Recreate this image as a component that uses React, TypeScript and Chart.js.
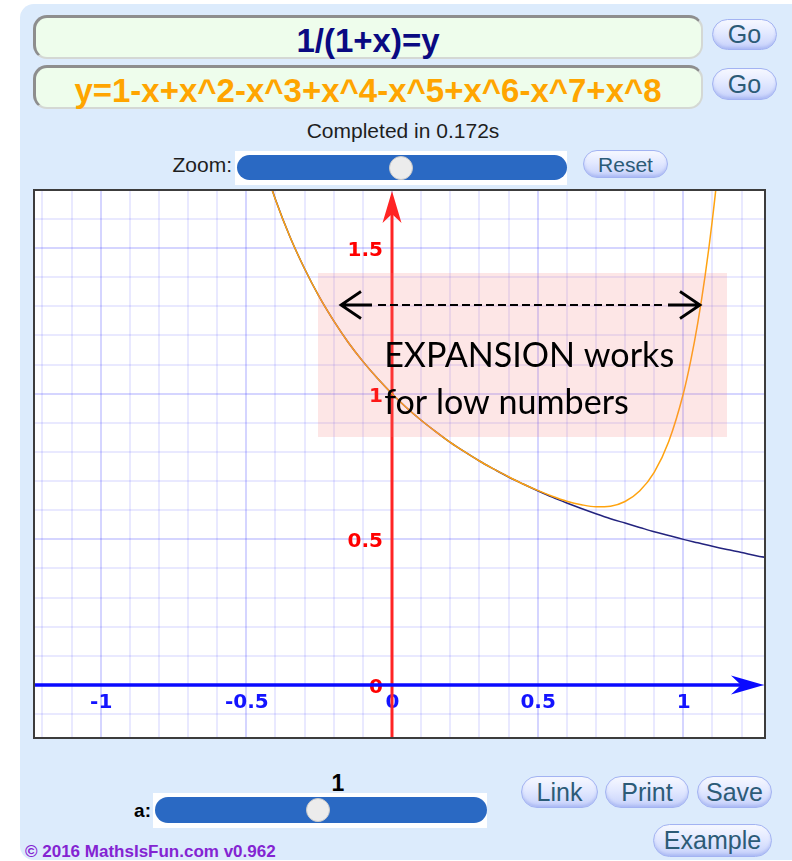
import React, { useEffect, useRef } from "react";
import { Chart, registerables } from "chart.js";

Chart.register(...registerables);

// y = 1/(1+x)
const exactX = [-0.45, -0.4, -0.35, -0.3, -0.25, -0.2, -0.15, -0.1, -0.05, 0, 0.05, 0.1, 0.15, 0.2, 0.25, 0.3, 0.35, 0.4, 0.45, 0.5, 0.55, 0.6, 0.65, 0.7, 0.75, 0.8, 0.85, 0.9, 0.95, 1.0, 1.05, 1.1, 1.15, 1.2, 1.25, 1.3];
const exactY = [1.818, 1.667, 1.538, 1.429, 1.333, 1.25, 1.176, 1.111, 1.053, 1.0, 0.952, 0.909, 0.87, 0.833, 0.8, 0.769, 0.741, 0.714, 0.69, 0.667, 0.645, 0.625, 0.606, 0.588, 0.571, 0.556, 0.541, 0.526, 0.513, 0.5, 0.488, 0.476, 0.465, 0.455, 0.444, 0.435];

// y = 1-x+x^2-...+x^8
const seriesX = [-0.45, -0.4, -0.35, -0.3, -0.25, -0.2, -0.15, -0.1, -0.05, 0, 0.05, 0.1, 0.15, 0.2, 0.25, 0.3, 0.35, 0.4, 0.45, 0.5, 0.55, 0.6, 0.65, 0.7, 0.75, 0.8, 0.85, 0.9, 0.95, 1.0, 1.025, 1.05, 1.075, 1.1, 1.125, 1.15];
const seriesY = [1.817, 1.666, 1.538, 1.429, 1.333, 1.25, 1.176, 1.111, 1.053, 1.0, 0.952, 0.909, 0.87, 0.833, 0.8, 0.769, 0.741, 0.715, 0.69, 0.668, 0.648, 0.631, 0.619, 0.612, 0.614, 0.63, 0.666, 0.73, 0.836, 1.0, 1.111, 1.245, 1.406, 1.599, 1.829, 2.101];

const xTickValues = [-1, -0.5, 0, 0.5, 1];
const xTickLabels = ["-1", "-0.5", "0", "0.5", "1"];
const yTickValues = [0, 0.5, 1, 1.5];
const yTickLabels = ["0", "0.5", "1", "1.5"];

const noteLines = ["EXPANSION works", "for low numbers"];

const X_MIN = -1.2255;
const X_MAX = 1.277;
const Y_MIN = -0.1785;
const Y_MAX = 1.6959;

const gridTicks = (min: number, max: number) => {
  const out: { value: number }[] = [];
  for (let i = Math.ceil(min * 10); i <= Math.floor(max * 10); i++) out.push({ value: i / 10 });
  return out;
};

const gridColor = (c: any) => {
  const v = c.tick ? c.tick.value : 0;
  return Math.abs(v * 2 - Math.round(v * 2)) < 1e-6 ? "rgba(20,20,255,0.18)" : "rgba(20,20,255,0.095)";
};

const axesPlugin = {
  id: "grapherAxes",
  beforeDatasetsDraw(chart: any) {
    const { ctx, chartArea, scales } = chart;
    const sx = scales.x;
    const sy = scales.y;
    const x0 = sx.getPixelForValue(0);
    const y0 = sy.getPixelForValue(0);
    ctx.save();
    ctx.font = "bold 20px 'DejaVu Sans'";
    ctx.textBaseline = "alphabetic";
    ctx.fillStyle = "#ff0000";
    ctx.textAlign = "right";
    yTickValues.forEach((v, i) => ctx.fillText(yTickLabels[i], x0 - 9, sy.getPixelForValue(v) + 8));
    ctx.fillStyle = "#1414ff";
    ctx.textAlign = "center";
    xTickValues.forEach((v, i) => ctx.fillText(xTickLabels[i], sx.getPixelForValue(v) + 0.5, y0 + 23));

    // vertical axis with arrow
    ctx.strokeStyle = "#ff2424";
    ctx.fillStyle = "#ff2424";
    ctx.lineWidth = 3;
    ctx.beginPath();
    ctx.moveTo(x0, chartArea.bottom);
    ctx.lineTo(x0, chartArea.top + 22);
    ctx.stroke();
    ctx.beginPath();
    ctx.moveTo(x0, chartArea.top);
    ctx.lineTo(x0 + 9.5, chartArea.top + 32);
    ctx.lineTo(x0, chartArea.top + 23);
    ctx.lineTo(x0 - 9.5, chartArea.top + 32);
    ctx.closePath();
    ctx.fill();

    // horizontal axis with arrow
    ctx.strokeStyle = "#0a0aff";
    ctx.fillStyle = "#0a0aff";
    ctx.lineWidth = 3.5;
    ctx.beginPath();
    ctx.moveTo(chartArea.left, y0);
    ctx.lineTo(chartArea.right - 20, y0);
    ctx.stroke();
    ctx.beginPath();
    ctx.moveTo(chartArea.right, y0);
    ctx.lineTo(chartArea.right - 33, y0 - 9.5);
    ctx.lineTo(chartArea.right - 23, y0);
    ctx.lineTo(chartArea.right - 33, y0 + 9.5);
    ctx.closePath();
    ctx.fill();
    ctx.restore();
  },
};

const notePlugin = {
  id: "expansionNote",
  afterDatasetsDraw(chart: any) {
    const { ctx, scales } = chart;
    const sx = scales.x;
    const sy = scales.y;
    const bx0 = sx.getPixelForValue(-0.254);
    const bx1 = sx.getPixelForValue(1.15);
    const by0 = sy.getPixelForValue(1.4144);
    const by1 = sy.getPixelForValue(0.8514);
    ctx.save();
    ctx.fillStyle = "rgba(245,120,120,0.19)";
    ctx.fillRect(bx0, by0, bx1 - bx0, by1 - by0);

    // double-headed dashed arrow
    const ay = sy.getPixelForValue(1.3045);
    const lx = sx.getPixelForValue(-0.1751);
    const rx = sx.getPixelForValue(1.0573);
    ctx.strokeStyle = "#000";
    ctx.lineWidth = 2.8;
    ctx.lineCap = "butt";
    ctx.beginPath();
    ctx.moveTo(lx + 20, ay - 13.5);
    ctx.lineTo(lx, ay);
    ctx.lineTo(lx + 20, ay + 13.5);
    ctx.moveTo(lx, ay);
    ctx.lineTo(lx + 31, ay);
    ctx.moveTo(rx - 20, ay - 13.5);
    ctx.lineTo(rx, ay);
    ctx.lineTo(rx - 20, ay + 13.5);
    ctx.moveTo(rx, ay);
    ctx.lineTo(rx - 32, ay);
    ctx.stroke();
    ctx.lineWidth = 2;
    ctx.setLineDash([8, 4]);
    ctx.beginPath();
    ctx.moveTo(lx + 37, ay);
    ctx.lineTo(rx - 36, ay);
    ctx.stroke();
    ctx.setLineDash([]);

    // note text
    ctx.fillStyle = "#000";
    ctx.textAlign = "left";
    ctx.textBaseline = "alphabetic";
    ctx.font = "400 36px Lato";
    const w = ctx.measureText(noteLines[0]).width;
    const size = (36 * 290) / w;
    ctx.font = `400 ${size.toFixed(1)}px Lato`;
    const tx = sx.getPixelForValue(-0.027);
    ctx.fillText(noteLines[0], tx, sy.getPixelForValue(1.0917));
    ctx.fillText(noteLines[1], tx, sy.getPixelForValue(0.9303));
    ctx.restore();
  },
};

const abs = (left: number, top: number, extra: React.CSSProperties = {}): React.CSSProperties => ({
  position: "absolute",
  left,
  top,
  ...extra,
});

function PillButton(props: { left: number; top: number; width: number; height: number; label: string; size: number }) {
  const { left, top, width, height, label, size } = props;
  return (
    <div
      style={abs(left, top, {
        width,
        height,
        boxSizing: "border-box",
        borderRadius: height / 2,
        border: "1.5px solid #a3b3f2",
        background: "linear-gradient(#f6f8ff 0%, #e3e9ff 45%, #c6d1fb 100%)",
        boxShadow: "inset 0 -2px 3px rgba(120,140,230,0.35)",
        color: "#2c5b77",
        fontFamily: "'Liberation Sans', Arial, sans-serif",
        fontSize: size,
        display: "flex",
        alignItems: "center",
        justifyContent: "center",
        lineHeight: 1,
      })}
    >
      {label}
    </div>
  );
}

function Slider(props: { left: number; top: number; width: number; height: number; thumb: number }) {
  const { left, top, width, height, thumb } = props;
  return (
    <>
      <div style={abs(left, top, { width, height: height + 9, background: "#fff" })} />
      <div
        style={abs(left + 2, top + 4, {
          width: width - 2,
          height,
          borderRadius: height / 2,
          background: "#2a69c3",
        })}
      />
      <div
        style={abs(thumb - 12, top + 4 + height / 2 - 12, {
          width: 24,
          height: 24,
          boxSizing: "border-box",
          borderRadius: "50%",
          background: "#ececec",
          border: "1.5px solid #c9c9c9",
        })}
      />
    </>
  );
}

function InputBox(props: { top: number; text: string; color: string }) {
  const { top, text, color } = props;
  return (
    <>
      <div
        style={abs(33, top, {
          width: 670,
          height: 44,
          boxSizing: "border-box",
          borderRadius: 14,
          background: "#eefdec",
          borderStyle: "solid",
          borderWidth: "3px 2px 2px 3px",
          borderColor: "#8e8e8e #d4d8d4 #d4d8d4 #8e8e8e",
        })}
      />
      <div
        style={abs(33, top + 9, {
          width: 670,
          textAlign: "center",
          fontFamily: "'Liberation Sans', Arial, sans-serif",
          fontWeight: "bold",
          fontSize: 33,
          lineHeight: "33px",
          color,
          whiteSpace: "nowrap",
        })}
      >
        {text}
      </div>
    </>
  );
}

export default function App() {
  const canvasRef = useRef<HTMLCanvasElement>(null);

  useEffect(() => {
    const canvas = canvasRef.current;
    if (!canvas) return;
    const chart = new Chart(canvas, {
      type: "line",
      data: {
        datasets: [
          {
            label: "y=1-x+x^2-x^3+x^4-x^5+x^6-x^7+x^8",
            data: seriesX.map((x, i) => ({ x, y: seriesY[i] })),
            borderColor: "#ffa30f",
            borderWidth: 1.5,
            pointRadius: 0,
            fill: false,
            cubicInterpolationMode: "monotone",
          },
          {
            label: "1/(1+x)=y",
            data: exactX.map((x, i) => ({ x, y: exactY[i] })),
            borderColor: "#23237e",
            borderWidth: 1.5,
            pointRadius: 0,
            fill: false,
            cubicInterpolationMode: "monotone",
          },
        ],
      },
      options: {
        animation: false,
        responsive: false,
        devicePixelRatio: 1,
        events: [],
        layout: { padding: 0 },
        plugins: { legend: { display: false }, tooltip: { enabled: false } },
        scales: {
          x: {
            type: "linear",
            min: X_MIN,
            max: X_MAX,
            afterBuildTicks: (s: any) => {
              s.ticks = gridTicks(X_MIN, X_MAX);
            },
            ticks: { display: false },
            grid: { color: gridColor, lineWidth: 2, drawTicks: false },
            border: { display: false },
          },
          y: {
            type: "linear",
            min: Y_MIN,
            max: Y_MAX,
            afterBuildTicks: (s: any) => {
              s.ticks = gridTicks(Y_MIN, Y_MAX);
            },
            ticks: { display: false },
            grid: { color: gridColor, lineWidth: 2, drawTicks: false },
            border: { display: false },
          },
        },
      } as any,
      plugins: [axesPlugin, notePlugin],
    });
    return () => chart.destroy();
  }, []);

  const sans = "'Liberation Sans', Arial, sans-serif";

  return (
    <div style={{ position: "absolute", left: 0, top: 0, width: 792, height: 861, background: "#fff", overflow: "hidden" }}>
      <div style={abs(20, 4, { width: 790, height: 856, borderRadius: 14, background: "#dcebfc" })} />

      <InputBox top={15} text="1/(1+x)=y" color="#0a0a82" />
      <InputBox top={65} text="y=1-x+x^2-x^3+x^4-x^5+x^6-x^7+x^8" color="#ffa500" />
      <PillButton left={712} top={19} width={65} height={31} label="Go" size={25} />
      <PillButton left={712} top={68} width={65} height={32} label="Go" size={25} />

      <div style={abs(203, 120, { width: 400, textAlign: "center", fontFamily: sans, fontSize: 21, lineHeight: "21px", color: "#1e1e1e" })}>
        Completed in 0.172s
      </div>
      <div style={abs(132, 154, { width: 100, textAlign: "right", fontFamily: sans, fontSize: 21, lineHeight: "21px", color: "#1e1e1e" })}>
        Zoom:
      </div>
      <Slider left={235} top={151} width={332} height={25} thumb={401} />
      <PillButton left={583} top={150} width={85} height={28} label="Reset" size={21} />

      <div
        style={abs(33, 189, {
          width: 733,
          height: 550,
          boxSizing: "border-box",
          border: "2px solid #3c3c3c",
          background: "#fff",
        })}
      >
        <canvas ref={canvasRef} width={729} height={546} style={{ display: "block", width: 729, height: 546 }} />
      </div>

      <div style={abs(288, 772, { width: 100, textAlign: "center", fontFamily: sans, fontWeight: "bold", fontSize: 23, lineHeight: "23px", color: "#000" })}>
        1
      </div>
      <div style={abs(91, 801, { width: 60, textAlign: "right", fontFamily: sans, fontWeight: "bold", fontSize: 19, lineHeight: "19px", color: "#000" })}>
        a:
      </div>
      <Slider left={153} top={793} width={334} height={26} thumb={318} />

      <PillButton left={521} top={776} width={77} height={32} label="Link" size={25} />
      <PillButton left={605} top={776} width={84} height={32} label="Print" size={25} />
      <PillButton left={697} top={776} width={75} height={32} label="Save" size={25} />
      <PillButton left={653} top={824} width={119} height={33} label="Example" size={25} />

      <div style={abs(25, 843, { fontFamily: sans, fontWeight: "bold", fontSize: 17, lineHeight: "17px", color: "#8424d2", whiteSpace: "nowrap" })}>
        © 2016 MathsIsFun.com v0.962
      </div>
    </div>
  );
}
